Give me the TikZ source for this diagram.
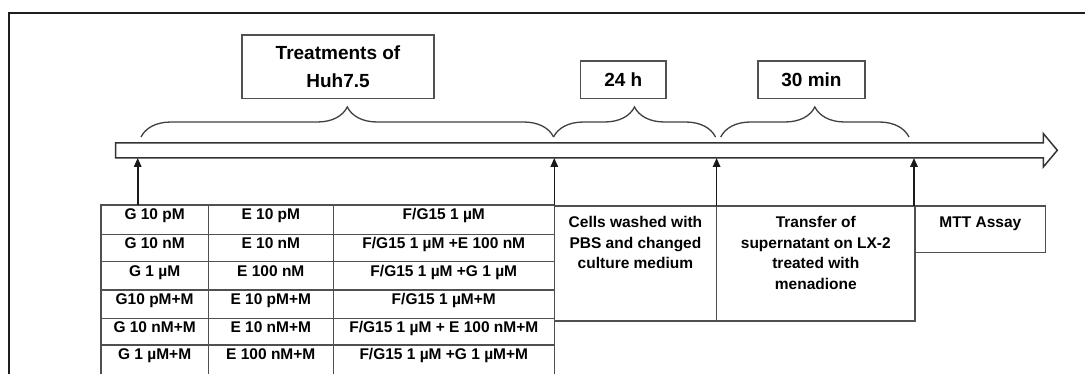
\documentclass[tikz,border=0pt]{standalone}
\usepackage{fontspec}
\setmainfont{Liberation Sans}
\usetikzlibrary{arrows.meta,decorations.pathreplacing}
\newcommand{\mycell}[4]{\parbox[t][#1][t]{#2}{\centering\fontsize{15.5pt}{20.5pt}\selectfont\bfseries\rule{0pt}{#3}#4\par}}
\definecolor{linegray}{HTML}{505050}
\definecolor{framec}{HTML}{1E1E1E}
\begin{document}
\begin{tikzpicture}[x=1pt,y=-1pt,
  cell/.style={draw=linegray, line width=1.3pt, inner sep=0pt, outer sep=0pt, anchor=north west},
  hbox/.style={draw=linegray, line width=1.4pt, inner sep=0pt, outer sep=0pt, anchor=north west, align=center, font=\fontsize{19pt}{27.7pt}\selectfont\bfseries},
  bracestyle/.style={draw=black!75, line width=1.3pt, decorate, decoration={brace, amplitude=30pt, aspect=0.5}},
  barline/.style={draw=black!80, line width=1.5pt, fill=white, line join=miter},
  uparr/.style={draw=black!90, line width=1.6pt, -{Triangle[length=9pt,width=7.5pt]}},
  frame/.style={draw=framec, line width=2.2pt}
]
\useasboundingbox (0,0) rectangle (1085,374);
\clip (0,0) rectangle (1085,374);
\draw[frame] (9.3,12.7) rectangle (1110,420);

% header boxes
\node[hbox, minimum width=192pt, minimum height=63.3pt] (treat) at (242,35) {Treatments of\\Huh7.5};
\node[hbox, minimum width=85.3pt, minimum height=37.3pt] (h24) at (580.7,61) {24 h};
\node[hbox, minimum width=107pt, minimum height=37.3pt] (m30) at (758,61) {30 min};

% braces
\draw[bracestyle] (141,137) -- (553.6,137);
\draw[bracestyle] (553.5,137) -- (715.5,137);
\draw[bracestyle] (720.7,137) -- (909,137);

% timeline bar
\draw[barline] (115.7,143) -- (1043.3,143) -- (1043.3,133.5) -- (1057.3,150.3) -- (1043.3,167) -- (1043.3,158) -- (115.7,158) -- cycle;
\coordinate (barb) at (0,158);

% table
\node[cell] (c11) at (101,205)   {\mycell{29.3pt}{107.3pt}{15pt}{G 10 pM}};
\node[cell] (c12) at (208.3,205) {\mycell{29.3pt}{125pt}{15pt}{E 10 pM}};
\node[cell] (c13) at (333.3,205) {\mycell{29.3pt}{221pt}{15pt}{F/G15 1 µM}};
\node[cell] (c21) at (101,234.3)   {\mycell{27.4pt}{107.3pt}{14.6pt}{G 10 nM}};
\node[cell] (c22) at (208.3,234.3) {\mycell{27.4pt}{125pt}{14.6pt}{E 10 nM}};
\node[cell] (c23) at (333.3,234.3) {\mycell{27.4pt}{221pt}{14.6pt}{F/G15 1 µM +E 100 nM}};
\node[cell] (c31) at (101,261.7)   {\mycell{28.3pt}{107.3pt}{14.6pt}{G 1 µM}};
\node[cell] (c32) at (208.3,261.7) {\mycell{28.3pt}{125pt}{14.6pt}{E 100 nM}};
\node[cell] (c33) at (333.3,261.7) {\mycell{28.3pt}{221pt}{14.6pt}{F/G15 1 µM +G 1 µM}};
\node[cell] (c41) at (101,290)   {\mycell{28.3pt}{107.3pt}{14.6pt}{G10 pM+M}};
\node[cell] (c42) at (208.3,290) {\mycell{28.3pt}{125pt}{14.6pt}{E 10 pM+M}};
\node[cell] (c43) at (333.3,290) {\mycell{28.3pt}{221pt}{14.6pt}{F/G15 1 µM+M}};
\node[cell] (c51) at (101,318.3)   {\mycell{26.7pt}{107.3pt}{14.6pt}{G 10 nM+M}};
\node[cell] (c52) at (208.3,318.3) {\mycell{26.7pt}{125pt}{14.6pt}{E 10 nM+M}};
\node[cell] (c53) at (333.3,318.3) {\mycell{26.7pt}{221pt}{14.6pt}{F/G15 1 µM + E 100 nM+M}};
\node[cell] (c61) at (101,345)   {\mycell{45pt}{107.3pt}{14.6pt}{G 1 µM+M}};
\node[cell] (c62) at (208.3,345) {\mycell{45pt}{125pt}{14.6pt}{E 100 nM+M}};
\node[cell] (c63) at (333.3,345) {\mycell{45pt}{221pt}{14.6pt}{F/G15 1 µM +G 1 µM+M}};

% step boxes
\node[cell] (cells) at (554.3,206) {\mycell{115pt}{162.3pt}{21.9pt}{Cells washed with\\PBS and changed\\culture medium}};
\node[cell] (transfer) at (716.6,206) {\mycell{115pt}{198.4pt}{21.9pt}{Transfer of\\supernatant on LX-2\\treated with\\menadione}};
\node[cell] (mtt) at (915,206) {\mycell{46.3pt}{130.7pt}{21.9pt}{MTT Assay}};

% arrows up to the timeline
\coordinate (a1) at ([xshift=36.7pt]c11.north west);
\draw[uparr] (a1) -- (a1 |- barb);
\draw[uparr] (c13.north east) -- (c13.north east |- barb);
\draw[uparr] (cells.north east) -- (cells.north east |- barb);
\draw[uparr] ([xshift=-1pt]transfer.north east) -- ([xshift=-1pt]transfer.north east |- barb);
\end{tikzpicture}
\end{document}
